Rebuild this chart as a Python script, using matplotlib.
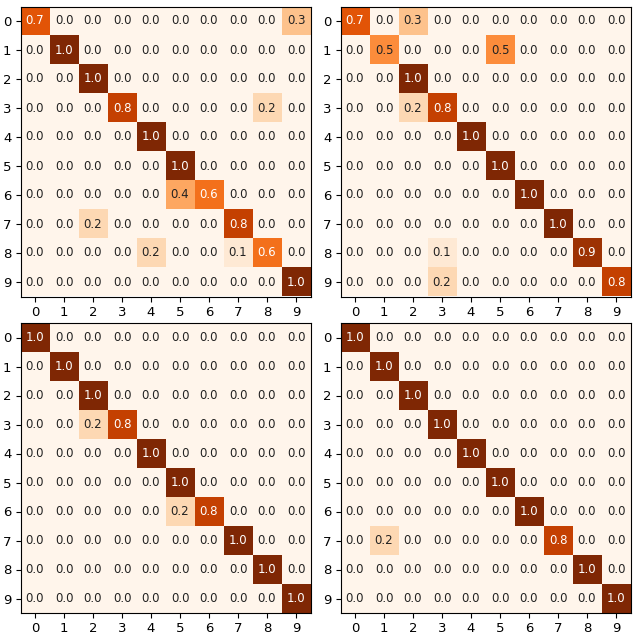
import numpy as np
import matplotlib
matplotlib.use("Agg")
import matplotlib.pyplot as plt

labels = [str(i) for i in range(10)]

cm_a = [
    [0.7, 0.0, 0.0, 0.0, 0.0, 0.0, 0.0, 0.0, 0.0, 0.3],
    [0.0, 1.0, 0.0, 0.0, 0.0, 0.0, 0.0, 0.0, 0.0, 0.0],
    [0.0, 0.0, 1.0, 0.0, 0.0, 0.0, 0.0, 0.0, 0.0, 0.0],
    [0.0, 0.0, 0.0, 0.8, 0.0, 0.0, 0.0, 0.0, 0.2, 0.0],
    [0.0, 0.0, 0.0, 0.0, 1.0, 0.0, 0.0, 0.0, 0.0, 0.0],
    [0.0, 0.0, 0.0, 0.0, 0.0, 1.0, 0.0, 0.0, 0.0, 0.0],
    [0.0, 0.0, 0.0, 0.0, 0.0, 0.4, 0.6, 0.0, 0.0, 0.0],
    [0.0, 0.0, 0.2, 0.0, 0.0, 0.0, 0.0, 0.8, 0.0, 0.0],
    [0.0, 0.0, 0.0, 0.0, 0.2, 0.0, 0.0, 0.1, 0.6, 0.0],
    [0.0, 0.0, 0.0, 0.0, 0.0, 0.0, 0.0, 0.0, 0.0, 1.0],
]
cm_b = [
    [0.7, 0.0, 0.3, 0.0, 0.0, 0.0, 0.0, 0.0, 0.0, 0.0],
    [0.0, 0.5, 0.0, 0.0, 0.0, 0.5, 0.0, 0.0, 0.0, 0.0],
    [0.0, 0.0, 1.0, 0.0, 0.0, 0.0, 0.0, 0.0, 0.0, 0.0],
    [0.0, 0.0, 0.2, 0.8, 0.0, 0.0, 0.0, 0.0, 0.0, 0.0],
    [0.0, 0.0, 0.0, 0.0, 1.0, 0.0, 0.0, 0.0, 0.0, 0.0],
    [0.0, 0.0, 0.0, 0.0, 0.0, 1.0, 0.0, 0.0, 0.0, 0.0],
    [0.0, 0.0, 0.0, 0.0, 0.0, 0.0, 1.0, 0.0, 0.0, 0.0],
    [0.0, 0.0, 0.0, 0.0, 0.0, 0.0, 0.0, 1.0, 0.0, 0.0],
    [0.0, 0.0, 0.0, 0.1, 0.0, 0.0, 0.0, 0.0, 0.9, 0.0],
    [0.0, 0.0, 0.0, 0.2, 0.0, 0.0, 0.0, 0.0, 0.0, 0.8],
]
cm_c = [
    [1.0, 0.0, 0.0, 0.0, 0.0, 0.0, 0.0, 0.0, 0.0, 0.0],
    [0.0, 1.0, 0.0, 0.0, 0.0, 0.0, 0.0, 0.0, 0.0, 0.0],
    [0.0, 0.0, 1.0, 0.0, 0.0, 0.0, 0.0, 0.0, 0.0, 0.0],
    [0.0, 0.0, 0.2, 0.8, 0.0, 0.0, 0.0, 0.0, 0.0, 0.0],
    [0.0, 0.0, 0.0, 0.0, 1.0, 0.0, 0.0, 0.0, 0.0, 0.0],
    [0.0, 0.0, 0.0, 0.0, 0.0, 1.0, 0.0, 0.0, 0.0, 0.0],
    [0.0, 0.0, 0.0, 0.0, 0.0, 0.2, 0.8, 0.0, 0.0, 0.0],
    [0.0, 0.0, 0.0, 0.0, 0.0, 0.0, 0.0, 1.0, 0.0, 0.0],
    [0.0, 0.0, 0.0, 0.0, 0.0, 0.0, 0.0, 0.0, 1.0, 0.0],
    [0.0, 0.0, 0.0, 0.0, 0.0, 0.0, 0.0, 0.0, 0.0, 1.0],
]
cm_d = [
    [1.0, 0.0, 0.0, 0.0, 0.0, 0.0, 0.0, 0.0, 0.0, 0.0],
    [0.0, 1.0, 0.0, 0.0, 0.0, 0.0, 0.0, 0.0, 0.0, 0.0],
    [0.0, 0.0, 1.0, 0.0, 0.0, 0.0, 0.0, 0.0, 0.0, 0.0],
    [0.0, 0.0, 0.0, 1.0, 0.0, 0.0, 0.0, 0.0, 0.0, 0.0],
    [0.0, 0.0, 0.0, 0.0, 1.0, 0.0, 0.0, 0.0, 0.0, 0.0],
    [0.0, 0.0, 0.0, 0.0, 0.0, 1.0, 0.0, 0.0, 0.0, 0.0],
    [0.0, 0.0, 0.0, 0.0, 0.0, 0.0, 1.0, 0.0, 0.0, 0.0],
    [0.0, 0.2, 0.0, 0.0, 0.0, 0.0, 0.0, 0.8, 0.0, 0.0],
    [0.0, 0.0, 0.0, 0.0, 0.0, 0.0, 0.0, 0.0, 1.0, 0.0],
    [0.0, 0.0, 0.0, 0.0, 0.0, 0.0, 0.0, 0.0, 0.0, 1.0],
]

fig = plt.figure(figsize=(6.4, 6.36), dpi=100)
W, H = 640, 636
positions = [
    [20.5 / W, (H - 296.5) / H, 290 / W, 290 / H],
    [340.5 / W, (H - 296.5) / H, 290 / W, 290 / H],
    [20.5 / W, (H - 613.0) / H, 290 / W, 290 / H],
    [340.5 / W, (H - 613.0) / H, 290 / W, 290 / H],
]

for cm, pos in zip([cm_a, cm_b, cm_c, cm_d], positions):
    ax = fig.add_axes(pos)
    data = np.array(cm)
    ax.imshow(data, cmap="Oranges", vmin=0, vmax=1, interpolation="nearest", aspect="auto")
    ax.set_xticks(range(len(labels)))
    ax.set_yticks(range(len(labels)))
    ax.set_xticklabels(labels)
    ax.set_yticklabels(labels)
    ax.tick_params(axis="both", labelsize=9.5, length=3.5, pad=3)
    for i in range(data.shape[0]):
        for j in range(data.shape[1]):
            v = data[i, j]
            ax.text(j, i, f"{v:.1f}", ha="center", va="center", fontsize=8.5,
                    color="white" if v > 0.5 else "#222222")

fig.savefig("out.png", dpi=100)
